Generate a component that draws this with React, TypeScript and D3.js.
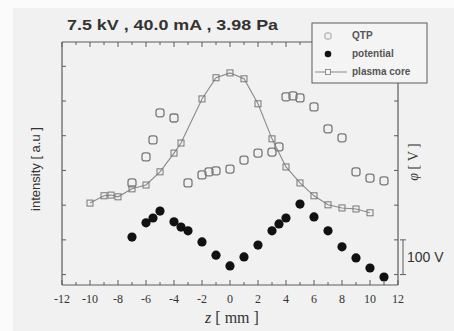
import * as d3 from 'd3'

const W = 454
const H = 331
const FRAME = { left: 62, right: 398, top: 42, bottom: 285 }
const LEGEND = { x: 312, y: 23, w: 115, h: 60 }

const Z_TICKS = [-12, -10, -8, -6, -4, -2, 0, 2, 4, 6, 8, 10, 12]
const Z_MINOR = [-11, -9, -7, -5, -3, -1, 1, 3, 5, 7, 9, 11]
const SIDE_TICKS = [0, 1, 2, 3, 4, 5, 6]

// plasma core (open squares + line), intensity a.u.
const CORE_Z = [-10, -9, -8.5, -8, -7, -6, -5, -4, -3.5, -2, -1, 0, 1, 2, 3, 4, 5, 6, 7, 8, 9, 10]
const CORE_I = [2.06, 2.27, 2.29, 2.24, 2.47, 2.58, 2.96, 3.5, 3.79, 5.06, 5.67, 5.81, 5.64, 4.92, 3.91, 3.1, 2.64, 2.27, 2.01, 1.92, 1.89, 1.78]

// QTP (open symbols, no line)
const QTP_Z = [-7, -6, -5.5, -5, -4, -3, -2, -1.5, -1, 0, 1, 2, 3, 3.5, 4, 4.5, 5, 6, 7, 8, 9, 10, 11]
const QTP_I = [2.64, 3.39, 3.88, 4.66, 4.51, 2.64, 2.87, 2.96, 2.99, 3.04, 3.3, 3.5, 3.53, 3.68, 5.12, 5.15, 5.09, 4.83, 4.2, 3.94, 2.96, 2.78, 2.7]

// potential (filled circles), volts
const POT_Z = [-7, -6, -5.5, -5, -4, -3.5, -3, -2, -1, 0, 1, 2, 3, 3.5, 4, 5, 6, 7, 8, 9, 10, 11]
const POT_V = [108, 149, 163, 183, 152, 137, 126, 94, 56, 25, 51, 85, 126, 146, 163, 203, 166, 126, 80, 48, 19, -7]

const LEGEND_LABELS = ['QTP', 'potential', 'plasma core']

const AXIS = '#5c5c5c'
const INK = '#333'
const SERIF = '"Liberation Serif", "DejaVu Serif", serif'
const SANS = '"Liberation Sans", Arial, sans-serif'

export default function App() {
  const x = d3.scaleLinear().domain([-12, 12]).range([FRAME.left, FRAME.right])
  const yI = d3.scaleLinear().domain([-0.3, 6.7]).range([FRAME.bottom, FRAME.top])
  const yV = d3.scaleLinear().domain([-30, 670]).range([FRAME.bottom, FRAME.top])

  const core = CORE_Z.map((z, i) => ({ z, v: CORE_I[i] }))
  const qtp = QTP_Z.map((z, i) => ({ z, v: QTP_I[i] }))
  const pot = POT_Z.map((z, i) => ({ z, v: POT_V[i] }))

  const coreLine = d3.line<{ z: number; v: number }>().x(d => x(d.z)).y(d => yI(d.v))

  return (
    <svg width={W} height={H} style={{ position: 'absolute', left: 0, top: 0, display: 'block' }}>
      <rect x={0} y={0} width={W} height={H} fill="#fbfbfb" />
      <rect x={13} y={8} width={W - 13} height={H - 8} fill="#f1f1f1" />

      {/* title */}
      <text x={67} y={30} fontFamily={SANS} fontSize={15} fontWeight={600} fill={INK}
        textLength={211} lengthAdjust="spacingAndGlyphs">
        7.5 kV , 40.0 mA , 3.98 Pa
      </text>

      {/* frame */}
      <g stroke={AXIS} strokeWidth={1.2} fill="none">
        <line x1={FRAME.left} x2={FRAME.left} y1={FRAME.top} y2={FRAME.bottom} />
        <line x1={FRAME.left} x2={FRAME.right} y1={FRAME.bottom} y2={FRAME.bottom} />
        <line x1={FRAME.left} x2={LEGEND.x} y1={FRAME.top} y2={FRAME.top} />
        <line x1={FRAME.right} x2={FRAME.right} y1={LEGEND.y + LEGEND.h} y2={FRAME.bottom} />
      </g>

      {/* ticks */}
      <g stroke={AXIS} strokeWidth={1}>
        {Z_TICKS.map(t => (
          <line key={'b' + t} x1={x(t)} x2={x(t)} y1={FRAME.bottom} y2={FRAME.bottom - 5} />
        ))}
        {Z_MINOR.map(t => (
          <line key={'bm' + t} x1={x(t)} x2={x(t)} y1={FRAME.bottom} y2={FRAME.bottom - 3} />
        ))}
        {Z_TICKS.filter(t => x(t) < LEGEND.x).map(t => (
          <line key={'t' + t} x1={x(t)} x2={x(t)} y1={FRAME.top} y2={FRAME.top + 5} />
        ))}
        {Z_MINOR.filter(t => x(t) < LEGEND.x).map(t => (
          <line key={'tm' + t} x1={x(t)} x2={x(t)} y1={FRAME.top} y2={FRAME.top + 3} />
        ))}
        {SIDE_TICKS.map(t => (
          <line key={'l' + t} x1={FRAME.left} x2={FRAME.left + 4} y1={yI(t)} y2={yI(t)} />
        ))}
        {SIDE_TICKS.filter(t => yV(t * 100) > LEGEND.y + LEGEND.h).map(t => (
          <line key={'r' + t} x1={FRAME.right} x2={FRAME.right - 4} y1={yV(t * 100)} y2={yV(t * 100)} />
        ))}
      </g>

      {/* x tick labels */}
      {Z_TICKS.map(t => (
        <text key={'lab' + t} x={x(t)} y={303} textAnchor="middle" fontFamily={SERIF} fontSize={12} fill={INK}>
          {t}
        </text>
      ))}

      {/* axis titles */}
      <text x={232} y={323} textAnchor="middle" fontFamily={SERIF} fontSize={16} fill={INK}>
        <tspan fontStyle="italic">z</tspan> [ mm ]
      </text>
      <text transform="translate(40,169) rotate(-90)" textAnchor="middle" fontFamily={SANS} fontSize={13} fill={INK}>
        intensity [ a.u ]
      </text>
      <text transform="translate(418,162) rotate(-90)" textAnchor="middle" fontFamily={SERIF} fontSize={14} fill={INK}>
        <tspan fontStyle="italic">φ</tspan> [ V ]
      </text>

      {/* 100 V scale bar */}
      <g stroke={AXIS} strokeWidth={1}>
        <line x1={403} x2={403} y1={yV(0)} y2={yV(100)} />
        <line x1={400} x2={406} y1={yV(0)} y2={yV(0)} />
        <line x1={400} x2={406} y1={yV(100)} y2={yV(100)} />
      </g>
      <text x={407} y={(yV(0) + yV(100)) / 2 + 5} fontFamily={SANS} fontSize={14} fill={INK}>
        100 V
      </text>

      {/* plasma core */}
      <path d={coreLine(core) ?? ''} fill="none" stroke="#8a8a8a" strokeWidth={1.1} />
      {core.map((d, i) => (
        <rect key={'c' + i} x={x(d.z) - 3} y={yI(d.v) - 3} width={6} height={6}
          fill="none" stroke="#777" strokeWidth={1} />
      ))}

      {/* QTP */}
      {qtp.map((d, i) => (
        <rect key={'q' + i} x={x(d.z) - 4} y={yI(d.v) - 4} width={8} height={8} rx={2.5}
          fill="none" stroke="#7a7a7a" strokeWidth={1.3} />
      ))}

      {/* potential */}
      {pot.map((d, i) => (
        <circle key={'p' + i} cx={x(d.z)} cy={yV(d.v)} r={4.6} fill="#111" />
      ))}

      {/* legend */}
      <rect x={LEGEND.x} y={LEGEND.y} width={LEGEND.w} height={LEGEND.h} fill="#f4f4f4" stroke={AXIS} strokeWidth={1} />
      <rect x={325} y={33} width={6} height={6} rx={1.5} fill="none" stroke="#999" strokeWidth={1} />
      <circle cx={328} cy={54} r={3.3} fill="#111" />
      <line x1={315} x2={347} y1={72} y2={72} stroke="#8a8a8a" strokeWidth={1} />
      <rect x={325.5} y={69.5} width={5} height={5} fill="#f4f4f4" stroke="#888" strokeWidth={0.9} />
      {LEGEND_LABELS.map((l, i) => (
        <text key={l} x={352} y={39 + i * 18} fontFamily={SANS} fontSize={10} fontWeight={600} fill="#555">
          {l}
        </text>
      ))}
    </svg>
  )
}
